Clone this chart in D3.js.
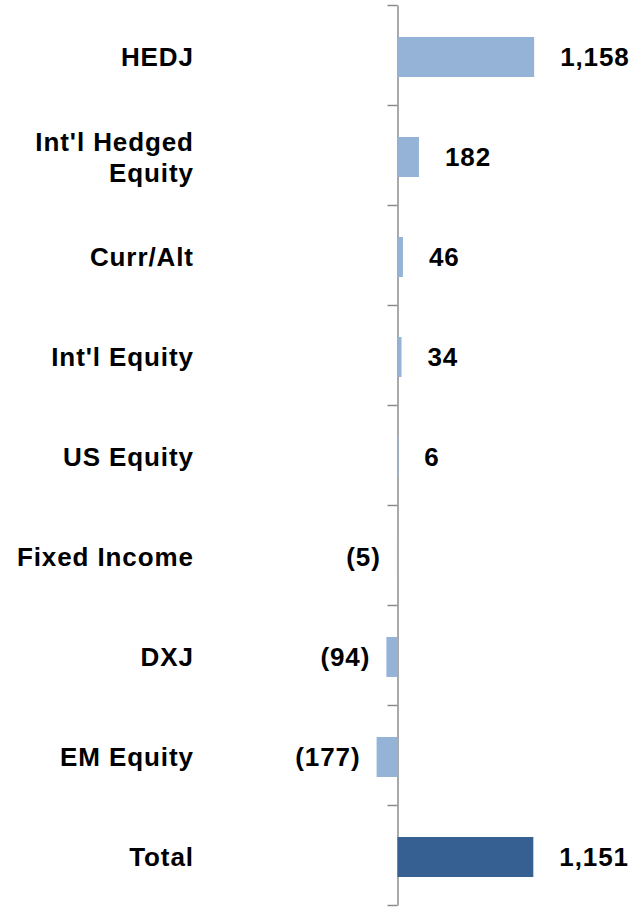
<!DOCTYPE html>
<html>
<head>
<meta charset="utf-8">
<script src="https://cdn.jsdelivr.net/npm/d3@7"></script>
<style>
  body { margin: 0; background: #fff; }
  text { font-family: "Liberation Sans", Arial, sans-serif; font-weight: bold; fill: #000; }
</style>
</head>
<body>
<div id="chart"></div>
<script>
// categories, top to bottom
const categories = ["HEDJ", "Int'l Hedged\nEquity", "Curr/Alt", "Int'l Equity", "US Equity", "Fixed Income", "DXJ", "EM Equity", "Total"]
const flows = [1158, 182, 46, 34, 6, -5, -94, -177, 1151]

const width = 644, height = 908
const ls = 0.9

const svg = d3.select("#chart").append("svg")
    .attr("width", width)
    .attr("height", height)

const x = d3.scaleLinear().domain([-3000, 2000]).range([43.5, 633.5])

const y = d3.scaleBand()
    .domain(categories)
    .range([5, 905])
    .paddingInner(0.6)
    .paddingOuter(0.3)

// boundary ticks between categories
const yEdges = d3.scaleLinear().domain([0, categories.length]).range([5, 905])

const axis = svg.append("g")
    .attr("transform", `translate(${x(0)},0)`)
    .call(d3.axisLeft(yEdges)
        .tickValues(d3.range(categories.length + 1))
        .tickFormat("")
        .tickSize(10)
        .tickSizeOuter(0))

axis.selectAll("path, line")
    .attr("stroke", "#8c8c8c")
    .attr("stroke-width", 1.5)

svg.selectAll(".bar")
    .data(categories)
    .join("rect")
    .attr("class", "bar")
    .attr("x", (d, i) => x(Math.min(0, flows[i])))
    .attr("y", d => y(d) + 2)
    .attr("width", (d, i) => Math.max(1, Math.abs(x(flows[i]) - x(0))))
    .attr("height", y.bandwidth())
    .attr("fill", (d, i) => i == categories.length - 1 ? "#366092" : "#95b3d7")

const fmt = d3.format(",")

svg.selectAll(".value")
    .data(flows)
    .join("text")
    .attr("class", "value")
    .attr("x", d => d >= 0 ? x(d) + 26 : x(d) - 17 + ls)
    .attr("y", (d, i) => y(categories[i]) + 2 + y.bandwidth() / 2)
    .attr("dy", "0.35em")
    .attr("text-anchor", d => d >= 0 ? "start" : "end")
    .style("font-size", "26px")
    .style("letter-spacing", ls + "px")
    .text(d => d < 0 ? "(" + fmt(-d) + ")" : fmt(d))

const labels = svg.selectAll(".cat")
    .data(categories)
    .join("text")
    .attr("class", "cat")
    .attr("text-anchor", "end")
    .style("font-size", "26px")
    .style("letter-spacing", ls + "px")

labels.each(function(d) {
    const lines = d.split("\n")
    const cy = y(d) + 2 + y.bandwidth() / 2
    const t = d3.select(this)
    lines.forEach((line, k) => {
        t.append("tspan")
            .attr("x", 193 + ls)
            .attr("y", cy + (k - (lines.length - 1) / 2) * 31)
            .attr("dy", "0.35em")
            .text(line)
    })
})
</script>
</body>
</html>
